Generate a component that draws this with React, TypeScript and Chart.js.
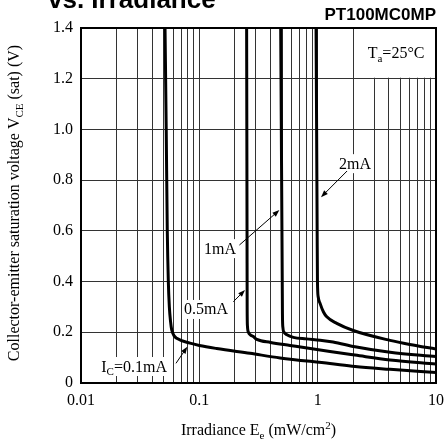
import React, { useEffect, useRef } from 'react';
import { Chart, registerables } from 'chart.js';

Chart.register(...registerables);

// ---- data ----
const irr01 = [0.0513, 0.0525, 0.0536, 0.0547, 0.0558, 0.0572, 0.0584, 0.0615, 0.0644, 0.0834, 0.1, 0.14, 0.268, 0.481, 1.27, 2.07, 4.09, 10];
const vce01 = [1.4, 1.0, 0.6, 0.4, 0.3, 0.24, 0.21, 0.185, 0.176, 0.157, 0.148, 0.136, 0.117, 0.099, 0.077, 0.065, 0.054, 0.041];

const irr05 = [0.251, 0.252, 0.253, 0.2536, 0.255, 0.26, 0.27, 0.286, 0.306, 0.4, 0.584, 1.27, 2.07, 4.09, 10];
const vce05 = [1.4, 1.0, 0.6, 0.3, 0.225, 0.2, 0.19, 0.183, 0.172, 0.16, 0.148, 0.124, 0.11, 0.091, 0.075];

const irr1 = [0.487, 0.496, 0.502, 0.504, 0.508, 0.52, 0.55, 0.623, 0.8, 1.05, 1.35, 2.07, 4.09, 10];
const vce1 = [1.4, 0.8, 0.4, 0.27, 0.22, 0.2, 0.19, 0.18, 0.174, 0.169, 0.162, 0.143, 0.121, 0.104];

const irr2 = [0.969, 0.98, 0.99, 0.996, 1.01, 1.048, 1.12, 1.194, 1.45, 2.0, 4.09, 6.0, 10];
const vce2 = [1.4, 1.0, 0.6, 0.4, 0.34, 0.314, 0.28, 0.261, 0.235, 0.207, 0.168, 0.152, 0.134];

const xGridValues = [
  0.01, 0.02, 0.03, 0.04, 0.05, 0.06, 0.07, 0.08, 0.09,
  0.1, 0.2, 0.3, 0.4, 0.5, 0.6, 0.7, 0.8, 0.9,
  1, 2, 3, 4, 5, 6, 7, 8, 9, 10,
];
const xTickLabels = ['0.01', '0.1', '1', '10'];
const yTickValues = [0, 0.2, 0.4, 0.6, 0.8, 1.0, 1.2, 1.4];
const yTickLabels = ['0', '0.2', '0.4', '0.6', '0.8', '1.0', '1.2', '1.4'];

const seriesNames = ['IC=0.1mA', '0.5mA', '1mA', '2mA'];

// ---- annotation layout (data coordinates) ----
type Run = { t: string; sub?: boolean; sup?: boolean };
const annotations: { runs: Run[]; x: number; y: number; ax?: number[] }[] = [
  { runs: [{ t: '2mA' }], x: 2.07, y: 0.867, ax: [1.772, 0.836, 1.068, 0.733] },
  { runs: [{ t: '1mA' }], x: 0.1496, y: 0.532, ax: [0.218, 0.544, 0.4746, 0.682] },
  { runs: [{ t: '0.5mA' }], x: 0.114, y: 0.292, ax: [0.1938, 0.3206, 0.2433, 0.3667] },
  { runs: [{ t: 'I' }, { t: 'C', sub: true }, { t: '=0.1mA' }], x: 0.0281, y: 0.067, ax: [0.0635, 0.0777, 0.0792, 0.143] },
];

const SERIF = '"Liberation Serif", "Times New Roman", serif';
const SANS = '"Liberation Sans", Arial, sans-serif';
const FS = 16;
const GRID = '#333';

function runFont(r: Run, size: number) {
  const s = r.sub || r.sup ? Math.round(size * 0.68) : size;
  return `${s}px ${SERIF}`;
}
function measureRuns(ctx: CanvasRenderingContext2D, runs: Run[], size: number) {
  let w = 0;
  for (const r of runs) {
    ctx.font = runFont(r, size);
    w += ctx.measureText(r.t).width;
  }
  return w;
}
function drawRuns(ctx: CanvasRenderingContext2D, runs: Run[], x: number, y: number, size: number, align: 'left' | 'center') {
  const w = measureRuns(ctx, runs, size);
  let cx = align === 'center' ? x - w / 2 : x;
  ctx.textAlign = 'left';
  ctx.textBaseline = 'alphabetic';
  ctx.fillStyle = '#000';
  for (const r of runs) {
    ctx.font = runFont(r, size);
    const dy = r.sub ? size * 0.22 : r.sup ? -size * 0.38 : 0;
    ctx.fillText(r.t, cx, y + dy);
    cx += ctx.measureText(r.t).width;
  }
  return w;
}

const decorPlugin = {
  id: 'decor',
  beforeDatasetsDraw(chart: any) {
    const ctx: CanvasRenderingContext2D = chart.ctx;
    const xs = chart.scales.x;
    const ys = chart.scales.y;
    ctx.save();
    const bx0 = xs.getPixelForValue(2) + 1.5;
    const bx1 = xs.getPixelForValue(10) - 1;
    const by0 = ys.getPixelForValue(1.4) + 1;
    const by1 = ys.getPixelForValue(1.2) - 1;
    ctx.fillStyle = '#fff';
    ctx.fillRect(bx0, by0, bx1 - bx0, by1 - by0);
    drawRuns(ctx, [{ t: 'T' }, { t: 'a', sub: true }, { t: '=25°C' }], xs.getPixelForValue(4.6), ys.getPixelForValue(1.3) + 5, FS, 'center');
    for (const a of annotations) {
      const w = measureRuns(ctx, a.runs, FS);
      const px = xs.getPixelForValue(a.x);
      const py = ys.getPixelForValue(a.y);
      ctx.fillStyle = '#fff';
      ctx.fillRect(px - w / 2 - 2, py - 9, w + 4, 19);
    }
    ctx.restore();
  },
  afterDatasetsDraw(chart: any) {
    const ctx: CanvasRenderingContext2D = chart.ctx;
    const xs = chart.scales.x;
    const ys = chart.scales.y;
    const area = chart.chartArea;
    ctx.save();
    for (const a of annotations) {
      const px = xs.getPixelForValue(a.x);
      const py = ys.getPixelForValue(a.y);
      drawRuns(ctx, a.runs, px, py + 5.5, FS, 'center');
      if (a.ax) {
        const x1 = xs.getPixelForValue(a.ax[0]);
        const y1 = ys.getPixelForValue(a.ax[1]);
        const x2 = xs.getPixelForValue(a.ax[2]);
        const y2 = ys.getPixelForValue(a.ax[3]);
        const ang = Math.atan2(y2 - y1, x2 - x1);
        const hl = 7, hw = 2.6;
        ctx.strokeStyle = '#000';
        ctx.lineWidth = 1;
        ctx.beginPath();
        ctx.moveTo(x1, y1);
        ctx.lineTo(x2 - Math.cos(ang) * hl * 0.8, y2 - Math.sin(ang) * hl * 0.8);
        ctx.stroke();
        ctx.fillStyle = '#000';
        ctx.beginPath();
        ctx.moveTo(x2, y2);
        ctx.lineTo(x2 - Math.cos(ang) * hl - Math.sin(ang) * hw, y2 - Math.sin(ang) * hl + Math.cos(ang) * hw);
        ctx.lineTo(x2 - Math.cos(ang) * hl + Math.sin(ang) * hw, y2 - Math.sin(ang) * hl - Math.cos(ang) * hw);
        ctx.closePath();
        ctx.fill();
      }
    }
    ctx.strokeStyle = '#000';
    ctx.lineWidth = 2;
    ctx.strokeRect(area.left, area.top, area.right - area.left, area.bottom - area.top);
    ctx.restore();
  },
  afterDraw(chart: any) {
    const ctx: CanvasRenderingContext2D = chart.ctx;
    const area = chart.chartArea;
    ctx.save();
    ctx.fillStyle = '#000';
    ctx.textBaseline = 'alphabetic';
    ctx.font = `bold 26px ${SANS}`;
    ctx.textAlign = 'left';
    ctx.fillText('vs. Irradiance', 48, 8);
    ctx.font = `bold 17px ${SANS}`;
    ctx.textAlign = 'right';
    ctx.fillText('PT100MC0MP', 436, 20);
    drawRuns(ctx, [{ t: 'Irradiance E' }, { t: 'e', sub: true }, { t: ' (mW/cm' }, { t: '2', sup: true }, { t: ')' }], (area.left + area.right) / 2, 435, FS, 'center');
    ctx.translate(19, 203);
    ctx.rotate(-Math.PI / 2);
    drawRuns(ctx, [{ t: 'Collector-emitter saturation voltage V' }, { t: 'CE', sub: true }, { t: ' (sat) (V)' }], 0, 0, FS, 'center');
    ctx.restore();
  },
};

function toPoints(xs: number[], ys: number[]) {
  return xs.map((x, i) => ({ x, y: ys[i] }));
}

export default function App() {
  const ref = useRef<HTMLCanvasElement | null>(null);
  useEffect(() => {
    if (!ref.current) return;
    const pairs = [
      [irr01, vce01],
      [irr05, vce05],
      [irr1, vce1],
      [irr2, vce2],
    ];
    const chart = new Chart(ref.current, {
      type: 'line',
      data: {
        datasets: pairs.map((p, i) => ({
          label: seriesNames[i],
          data: toPoints(p[0], p[1]),
          borderColor: '#000',
          borderWidth: 3,
          pointRadius: 0,
          fill: false,
          cubicInterpolationMode: 'monotone' as const,
        })),
      },
      options: {
        responsive: false,
        animation: false,
        devicePixelRatio: 1,
        layout: { padding: { top: 28, right: 10, bottom: 0, left: 0 } },
        plugins: { legend: { display: false }, tooltip: { enabled: false }, title: { display: false } },
        scales: {
          x: {
            type: 'logarithmic',
            min: 0.01,
            max: 10,
            afterBuildTicks: (s: any) => {
              s.ticks = xGridValues.map((v) => ({ value: v }));
            },
            afterFit: (s: any) => {
              s.height = 60;
              s.paddingLeft = 0;
              s.paddingRight = 0;
            },
            ticks: {
              autoSkip: false,
              maxRotation: 0,
              minRotation: 0,
              padding: 8,
              color: '#000',
              font: { family: SERIF, size: FS },
              callback: (v: any) => {
                const n = Number(v);
                const idx = [0.01, 0.1, 1, 10].findIndex((d) => Math.abs(d - n) < d * 1e-6);
                return idx >= 0 ? xTickLabels[idx] : '';
              },
            },
            grid: { color: GRID, lineWidth: 1, drawTicks: false },
            border: { display: false },
          },
          y: {
            type: 'linear',
            min: 0,
            max: 1.4,
            afterBuildTicks: (s: any) => {
              s.ticks = yTickValues.map((v) => ({ value: v }));
            },
            afterFit: (s: any) => {
              s.width = 81;
              s.paddingTop = 0;
              s.paddingBottom = 0;
            },
            ticks: {
              padding: 8,
              color: '#000',
              font: { family: SERIF, size: FS },
              callback: (v: any) => {
                const idx = yTickValues.findIndex((d) => Math.abs(d - Number(v)) < 1e-6);
                return idx >= 0 ? yTickLabels[idx] : '';
              },
            },
            grid: { color: GRID, lineWidth: 1, drawTicks: false },
            border: { display: false },
          },
        },
      },
      plugins: [decorPlugin],
    });
    return () => chart.destroy();
  }, []);
  return (
    <div style={{ position: 'fixed', left: 0, top: 0, width: 446, height: 443, background: '#fff' }}>
      <canvas ref={ref} width={446} height={443} style={{ display: 'block', width: 446, height: 443 }} />
    </div>
  );
}
